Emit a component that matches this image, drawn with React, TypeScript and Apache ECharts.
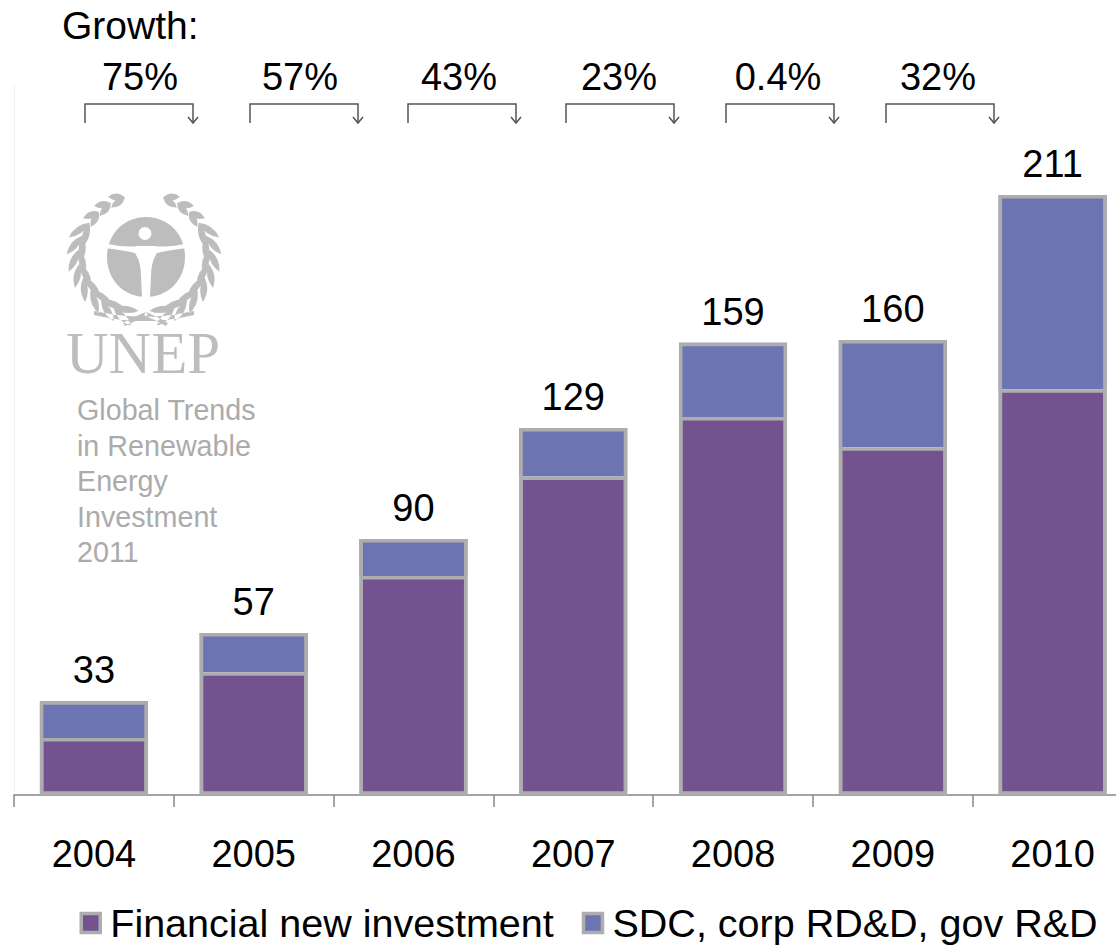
import React, { useEffect, useRef } from "react";
import * as echarts from "echarts";

const years = ["2004", "2005", "2006", "2007", "2008", "2009", "2010"];
const financialNew = [20, 43.2, 77, 112, 132.9, 122.3, 142.7];
const sdcCorpGov = [13, 13.8, 13, 17, 26.1, 37.7, 68.3];
const totals = [33, 57, 90, 129, 159, 160, 211];
const growthLabels = ["75%", "57%", "43%", "23%", "0.4%", "32%"];
const reportLines = ["Global Trends", "in Renewable", "Energy", "Investment", "2011"];

const FONT = "'Liberation Sans', Arial, sans-serif";
const PURPLE = "#72538F";
const BLUE = "#6D74B2";
const EDGE = "#ADADAD";
const LOGO = "#BDBDBD";
const BAR_W = 108;

function leaf(x: number, y: number, a: number, l: number, w: number) {
  const c = Math.cos(a), s = Math.sin(a);
  const tx = x + c * l, ty = y + s * l;
  const mx = x + (c * l) / 2, my = y + (s * l) / 2;
  const f = (v: number) => v.toFixed(1);
  return `M${f(x)} ${f(y)}Q${f(mx - s * w)} ${f(my + c * w)} ${f(tx)} ${f(ty)}Q${f(mx + s * w)} ${f(my - c * w)} ${f(x)} ${f(y)}Z`;
}

function laurelPath() {
  const cx = 144, cy = 255, rx = 65, ry = 60;
  let d = "";
  for (const side of [-1, 1]) {
    for (let i = 0; i < 11; i++) {
      const phi = ((152 - i * 13.5) * Math.PI) / 180;
      const x = cx + side * rx * Math.sin(phi);
      const y = cy - ry * Math.cos(phi);
      const tx = side * rx * Math.cos(phi);
      const ty = ry * Math.sin(phi);
      const dir = Math.atan2(ty, tx);
      const size = i > 7 ? 17 : 25;
      d += leaf(x, y, dir - side * 0.34, size, 7);
      d += leaf(x, y, dir + side * 0.34, size, 7);
    }
  }
  return d;
}

const globePath =
  "M146 217C168 217 185 234 185 257C185 280 168 297 146 297C124 297 107 280 107 257C107 234 124 217 146 217Z";
const figurePath =
  "M104 243Q124 248 138 246L154 246Q170 248 188 243L188 248Q170 250 157 253Q151 262 151 276L150 297L142 297L141 276Q141 262 135 253Q122 250 104 248Z" +
  "M145 227A6.5 6.5 0 1 0 145 240A6.5 6.5 0 1 0 145 227Z";
const stemPath =
  "M94 311Q145 322 194 311L194 315Q145 327 94 315Z" +
  "M123 323Q135 316 146 312L148 315Q137 320 125 326Z" +
  "M168 323Q156 316 146 312L144 315Q155 320 166 326Z";

echarts.graphic.registerShape("unepLaurel", echarts.graphic.extendPath(laurelPath() + stemPath, {}));
echarts.graphic.registerShape("unepGlobe", echarts.graphic.extendPath(globePath, {}));
echarts.graphic.registerShape("unepFigure", echarts.graphic.extendPath(figurePath, {}));

const growthCenters = [140, 300, 459, 619, 778, 938];
const bracketLeft = [85, 250, 408, 566, 726, 886];

function App() {
  const ref = useRef<HTMLDivElement>(null);
  useEffect(() => {
    const chart = echarts.init(ref.current!, undefined, { renderer: "svg" });
    const graphics: any[] = [
      { type: "text", x: 62, y: 25.5, style: { text: "Growth:", font: `39px ${FONT}`, fill: "#000", textVerticalAlign: "middle" } },
      { type: "unepLaurel", x: 0, y: 0, style: { fill: LOGO } },
      { type: "unepGlobe", x: 0, y: 0, style: { fill: LOGO } },
      { type: "unepFigure", x: 0, y: 0, style: { fill: "#fff" } },
      { type: "text", x: 143, y: 353, style: { text: "UNEP", font: `59px 'Liberation Serif', serif`, fill: LOGO, textAlign: "center", textVerticalAlign: "middle" } },
    ];
    growthLabels.forEach((t, i) => {
      graphics.push({ type: "text", x: growthCenters[i], y: 77, style: { text: t, font: `38px ${FONT}`, fill: "#000", textAlign: "center", textVerticalAlign: "middle" } });
      const l = bracketLeft[i], r = l + 108;
      graphics.push({ type: "polyline", shape: { points: [[l, 123], [l, 104], [r, 104], [r, 123]] }, style: { stroke: "#555", lineWidth: 1.5, fill: "none" } });
      graphics.push({ type: "polyline", shape: { points: [[r - 5, 117], [r, 123], [r + 5, 117]] }, style: { stroke: "#555", lineWidth: 1.5, fill: "none" } });
    });
    reportLines.forEach((t, i) => {
      graphics.push({ type: "text", x: 77, y: 410 + i * 35.5, style: { text: t, font: `28.7px ${FONT}`, fill: "#ABABAB", textVerticalAlign: "middle" } });
    });

    const edge = { borderColor: EDGE, borderWidth: 3.5 };
    chart.setOption({
      animation: false,
      backgroundColor: "#fff",
      grid: { left: 14, width: 1118.5, top: 84, height: 711, containLabel: false, outerBoundsMode: "none" },
      xAxis: {
        type: "category",
        data: years,
        axisLine: { lineStyle: { color: "#868686", width: 1.5 } },
        axisTick: { show: true, length: 12, lineStyle: { color: "#868686", width: 1.5 } },
        axisLabel: { color: "#000", fontFamily: FONT, fontSize: 38, margin: 40 },
      },
      yAxis: {
        type: "value",
        min: 0,
        max: 250,
        axisLabel: { show: false },
        axisTick: { show: false },
        splitLine: { show: false },
        axisLine: { show: true, lineStyle: { color: "#F2F2F2", width: 1 } },
      },
      legend: {
        left: 79.5,
        top: 903,
        padding: 0,
        icon: "rect",
        itemWidth: 19,
        itemHeight: 19,
        itemGap: 28,
        textStyle: { color: "#000", fontFamily: FONT, fontSize: 39.5, padding: [0, 0, 0, 5] },
        data: [
          { name: "Financial new investment", itemStyle: { color: PURPLE, ...edge } },
          { name: "SDC, corp RD&D, gov R&D", itemStyle: { color: BLUE, ...edge } },
        ],
      },
      series: [
        {
          name: "Financial new investment",
          type: "bar",
          stack: "total",
          barWidth: BAR_W,
          barGap: "-100%",
          z: 3,
          data: financialNew,
          itemStyle: { color: PURPLE, ...edge },
        },
        {
          name: "SDC, corp RD&D, gov R&D",
          type: "bar",
          stack: "total",
          barWidth: BAR_W,
          z: 2,
          data: sdcCorpGov,
          itemStyle: { color: BLUE },
        },
        {
          name: "Total",
          type: "bar",
          barWidth: BAR_W,
          barGap: "-100%",
          z: 4,
          data: totals,
          itemStyle: { color: "rgba(0,0,0,0)", ...edge },
          label: {
            show: true,
            position: "top",
            distance: 12,
            color: "#000",
            fontFamily: FONT,
            fontSize: 38,
          },
        },
      ],
      graphic: graphics,
    });
    return () => chart.dispose();
  }, []);
  return <div ref={ref} style={{ position: "fixed", left: 0, top: 0, width: 1116, height: 945 }} />;
}

export default App;
